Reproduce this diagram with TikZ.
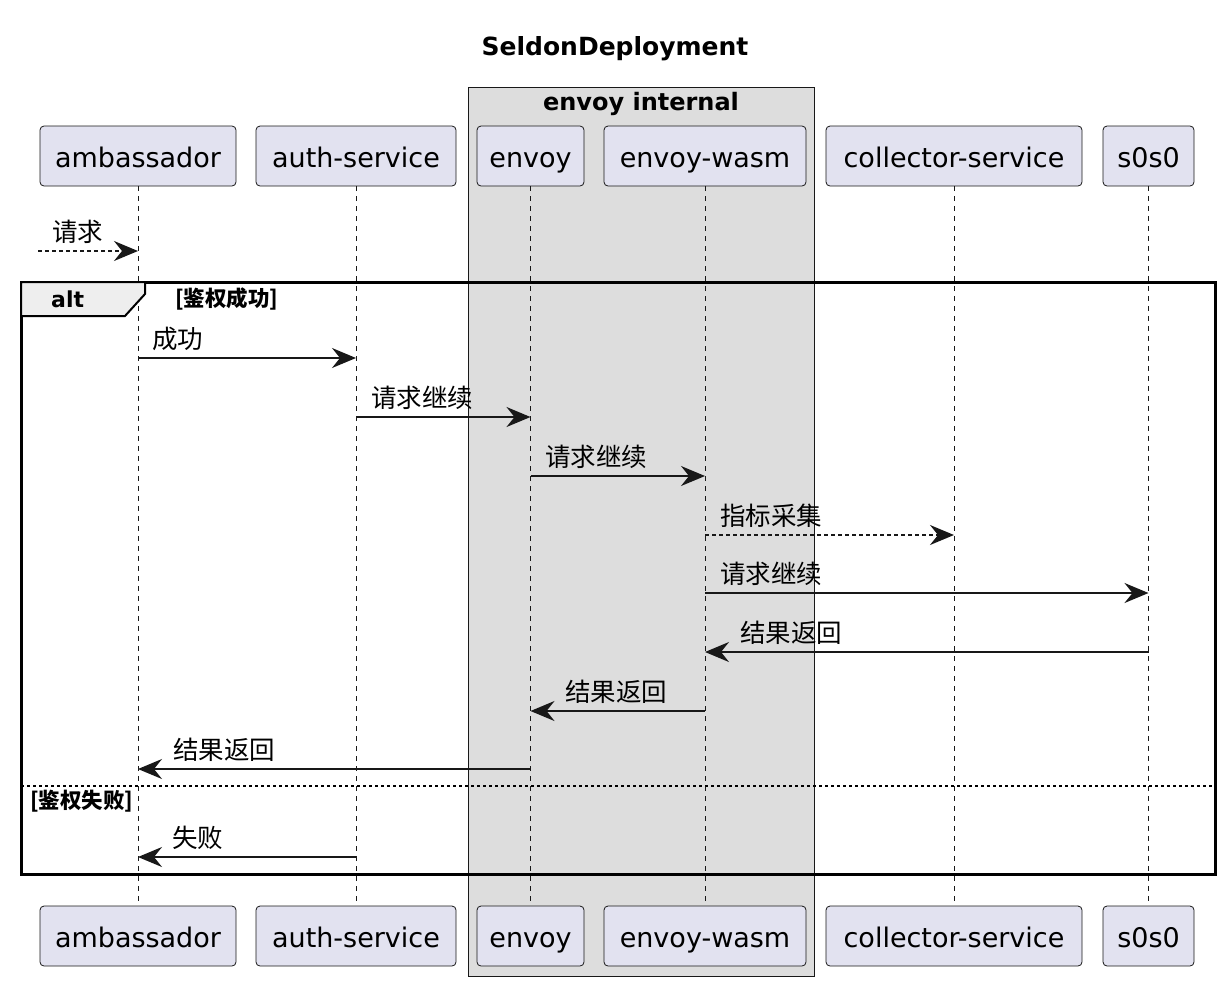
\documentclass[tikz,border=0pt]{standalone}
\usepackage{fontspec}
\setmainfont{DejaVu Sans}
\newfontfamily\cjk{Noto Sans CJK SC}
\usetikzlibrary{arrows.meta}
\definecolor{partfill}{HTML}{E2E2F0}
\definecolor{boxfill}{HTML}{DDDDDD}
\definecolor{tabfill}{HTML}{EEEEEE}
\definecolor{ink}{HTML}{181818}
\tikzset{
  part/.style={draw=ink, fill=partfill, rounded corners=4pt, line width=0.8pt,
    minimum height=60pt, inner sep=0pt, text height=24pt, text depth=2pt,
    font=\fontsize{27}{32}\selectfont},
  life/.style={draw=ink, line width=1pt, dash pattern=on 5pt off 5pt},
  msg/.style={draw=ink, line width=1.6pt, -{Stealth[length=24pt, width=20pt, inset=8pt]}},
  reply/.style={msg, dash pattern=on 4pt off 3pt},
  lbl/.style={anchor=base west, inner sep=0pt, font=\cjk\fontsize{25.5}{30}\selectfont},
  guard/.style={anchor=base west, inner sep=0pt, font=\cjk\bfseries\fontsize{21.5}{26}\selectfont}
}
\begin{document}
\begin{tikzpicture}[x=1pt, y=-1pt]
\useasboundingbox (0,0) rectangle (1226,986);
% title
\node[font=\bfseries\fontsize{25}{30}\selectfont] (title) at (615,49) {SeldonDeployment};
% envoy group
\draw[draw=ink, fill=boxfill, line width=0.8pt] (468,87) rectangle (814,976);
\node[font=\bfseries\fontsize{24}{28}\selectfont] (grp) at (641,104) {envoy internal};
% participants
\node[part, minimum width=196pt] (amb) at (138,156) {ambassador};
\node[part, minimum width=200pt] (auth) at (356,156) {auth-service};
\node[part, minimum width=107pt] (env) at (530.5,156) {envoy};
\node[part, minimum width=202pt] (wasm) at (705,156) {envoy-wasm};
\node[part, minimum width=256pt] (coll) at (954,156) {collector-service};
\node[part, minimum width=91pt] (s0) at (1148.5,156) {s0s0};
\node[part, minimum width=196pt] (ambB) at (138,936) {ambassador};
\node[part, minimum width=200pt] (authB) at (356,936) {auth-service};
\node[part, minimum width=107pt] (envB) at (530.5,936) {envoy};
\node[part, minimum width=202pt] (wasmB) at (705,936) {envoy-wasm};
\node[part, minimum width=256pt] (collB) at (954,936) {collector-service};
\node[part, minimum width=91pt] (s0B) at (1148.5,936) {s0s0};
% lifelines
\draw[life] (amb) -- (ambB);
\draw[life] (auth) -- (authB);
\draw[life] (env) -- (envB);
\draw[life] (wasm) -- (wasmB);
\draw[life] (coll) -- (collB);
\draw[life] (s0) -- (s0B);
% incoming request
\coordinate (entry) at (38,251);
\draw[reply] (entry) -- (amb |- entry);
\node[lbl] (l0) at (52,241) {请求};
% alt frame
\draw[draw=black, line width=3pt] (21,282) rectangle (1215,874);
\draw[draw=black, fill=tabfill, line width=2pt] (21,282) -- (145,282) -- (145,294) -- (125,316) -- (21,316) -- cycle;
\node[font=\bfseries\fontsize{22}{26}\selectfont, anchor=base west, inner sep=0pt] (alt) at (51,307) {alt};
\node[guard] (g1) at (175,306) {[鉴权成功]};
\draw[draw=black, line width=1.6pt, dash pattern=on 3pt off 3pt] (21,786) -- (1215,786);
\node[guard] (g2) at (30,808) {[鉴权失败]};
% messages
\draw[msg] (amb |- 0,358) -- (auth |- 0,358);
\node[lbl] (l1) at (152,348) {成功};
\draw[msg] (auth |- 0,417) -- (env |- 0,417);
\node[lbl] (l2) at (371,407) {请求继续};
\draw[msg] (env |- 0,476) -- (wasm |- 0,476);
\node[lbl] (l3) at (545,466) {请求继续};
\draw[reply] (wasm |- 0,535) -- (coll |- 0,535);
\node[lbl] (l4) at (720,525) {指标采集};
\draw[msg] (wasm |- 0,593) -- (s0 |- 0,593);
\node[lbl] (l5) at (720,583) {请求继续};
\draw[msg] (s0 |- 0,652) -- (wasm |- 0,652);
\node[lbl] (l6) at (740,642) {结果返回};
\draw[msg] (wasm |- 0,711) -- (env |- 0,711);
\node[lbl] (l7) at (565,701) {结果返回};
\draw[msg] (env |- 0,769) -- (amb |- 0,769);
\node[lbl] (l8) at (173,759) {结果返回};
\draw[msg] (auth |- 0,857) -- (amb |- 0,857);
\node[lbl] (l9) at (172,847) {失败};
\end{tikzpicture}
\end{document}
